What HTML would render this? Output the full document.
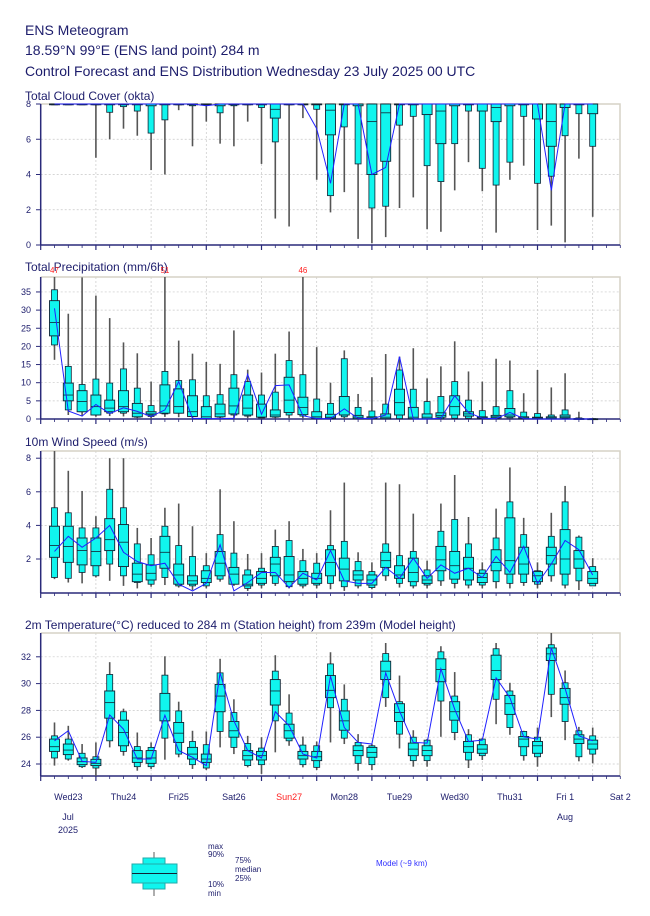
<!DOCTYPE html>
<html><head><meta charset="utf-8">
<style>
body{margin:0;background:#fff;width:650px;height:916px;overflow:hidden;font-family:"Liberation Sans",sans-serif}
svg{position:absolute;left:0;top:0}
</style></head>
<body>
<svg id="chart" width="650" height="916" xmlns="http://www.w3.org/2000/svg">
<text x="25" y="35" font-size="14" fill="#1c1c6b">ENS Meteogram</text>
<text x="25" y="55" font-size="14" fill="#1c1c6b">18.59°N 99°E (ENS land point) 284 m</text>
<text x="25" y="76" font-size="14" fill="#1c1c6b">Control Forecast and ENS Distribution Wednesday 23 July 2025 00 UTC</text>
<g id="panels"></g>
</svg>
<script>
// ---- Data (steps every 6h from Wed23 06UTC) ----
const dayLabels=["Wed23","Thu24","Fri25","Sat26","Sun27","Mon28","Tue29","Wed30","Thu31","Fri 1","Sat 2"];
const cloudTicks=[0,2,4,6,8];
const cloudMin=[8,8,8,4.95,6.0,6.6,6.2,4.25,4.0,7.65,5.6,7.0,5.75,5.6,7.0,4.6,1.5,1.05,7.2,3.7,1.85,3.0,0.35,0.1,0.45,2.1,2.7,0.9,0.75,3.1,4.7,3.05,0.7,3.7,4.5,0.85,1.1,0.15,4.9,1.6];
const cloudP10=[8,8,8,8,7.53,7.85,7.6,6.35,7.1,8,7.9,8,7.5,7.9,8,7.8,5.85,8,8,7.7,2.8,6.7,4.6,2.1,2.2,6.8,7.3,4.5,3.6,5.75,7.6,4.35,3.4,4.7,7.3,3.5,3.9,6.2,7.45,5.6];
const cloudP25=[8,8,8,8,8,8,8,7.9,8,8,8,8,7.9,8,8,8,7.2,8,8,8,6.25,8,7.9,4.0,4.75,8,8,7.4,5.75,7.9,8,7.6,7.0,7.9,8,7.15,5.6,7.8,8,7.45];
const cloudMed=[8,8,8,8,8,8,8,8,8,8,8,8,8,8,8,8,7.7,8,8,8,7.65,8,8,7.0,7.5,8,8,8,7.6,8,8,8,7.8,8,8,8,7.0,8,8,8];
const cloudP75=[8,8,8,8,8,8,8,8,8,8,8,8,8,8,8,8,8,8,8,8,8,8,8,8,8,8,8,8,8,8,8,8,8,8,8,8,8,8,8,8];
const cloudP90=cloudP75.slice();
const cloudMax=cloudP75.slice();
const cloudCtrl=[8,8,8,8,8,8,8,8,8,8,8,7.9,8,8,8,8,8,8,8,6.6,3.5,8,8,4.0,4.4,8,8,8,8,8,8,8,8,8,8,8,3.1,8,8,8];

const precTicks=[0,5,10,15,20,25,30,35];
const precMin=[16.3,1.1,0.8,0.6,0.8,0.7,0.2,0,0.6,0.5,0.3,0,0.1,0.2,0.2,0,0.1,0.2,0.2,0,0,0,0,0,0,0,0,0,0,0,0,0,0,0,0,0,0,0,0,0];
const precP10=[20.4,2.5,2.0,1.1,1.6,1.6,0.5,0.7,1.4,1.6,0.7,0.1,0.5,1.1,0.8,0.3,0.5,1.1,0.8,0.1,0.1,0.6,0.1,0.1,0.1,0.1,0.1,0.1,0.1,0.2,0.2,0.1,0.1,0.3,0.1,0.1,0.1,0.2,0,0];
const precP25=[22.9,5.0,2.0,1.1,2.0,2.0,0.6,1.1,1.6,1.6,0.7,0.1,0.6,1.4,1.1,0.5,0.6,1.8,1.2,0.2,0.2,1.1,0.1,0.1,0.1,1.1,0.1,0.1,0.5,1.1,0.8,0.2,0.3,0.6,0.1,0.1,0.1,0.3,0.1,0];
const precMed=[26.6,6.6,4.8,3.4,3.0,3.4,1.6,1.4,3.6,3.4,2.0,0.6,1.4,3.6,3.0,0.5,1.1,5.2,3.2,0.6,0.5,1.1,0.5,0.3,0.5,4.5,0.5,0.5,1.0,3.4,1.4,0.4,0.6,1.1,0.3,0.3,0.3,0.6,0.1,0];
const precP75=[32.6,9.9,7.8,6.6,5.2,7.8,4.3,2.0,9.4,8.3,6.4,3.4,4.1,8.5,6.6,4.1,2.5,11.5,6.0,2.0,1.3,6.2,1.0,0.6,1.4,8.2,3.2,1.4,1.7,6.4,2.0,0.6,1.0,2.9,0.6,0.5,0.6,1.1,0.1,0.05];
const precP90=[35.6,14.5,9.5,11,9.9,13.8,8.5,3.7,13.1,10.6,10.8,6.4,6.7,12.2,10.3,6.6,7.4,16.1,12.2,5.5,4.3,16.6,3.2,2.2,4.1,13.5,8.2,4.8,6.2,10.3,5.2,2.3,3.4,7.8,1.9,1.5,1.1,2.5,0.3,0.1];
const precMax=[47,29,39,34,27.8,21.1,18.1,10.3,51,21.6,18,15.7,15.2,24.4,13.6,12.8,18,24.1,46,19.8,10,18.9,6.9,11.5,17.9,17.2,19.5,11.2,14.5,21.4,13.1,10.3,16.6,16.1,7.1,13.5,8.7,12.6,2,0.3];
const precCtrl=[30.5,2.2,0.8,4.0,1.5,3.1,2.1,0.7,2.5,10.3,0.2,0.1,0.1,0.2,12.3,1.3,9.2,9.4,0.9,0.1,0.1,2.8,0.2,0.1,1.1,17.2,0,0,0.2,6.4,1.8,0.2,0.1,1.8,0.1,0,0,0,0,0];

const windTicks=[2,4,6,8];
const windMin=[.8,.6,.55,.9,.7,.4,.25,.35,.45,.3,.15,.25,.65,.4,.1,.25,.4,.25,.25,.25,.2,.1,.25,.2,.7,.3,.25,.25,.4,.25,.25,.25,.25,.25,.4,.25,.65,.25,.15,.4];
const windP10=[.9,.85,1.2,1.0,1.7,1.0,.6,.5,.9,.4,.4,.4,.8,.5,.25,.45,.55,.35,.4,.45,.55,.35,.4,.3,1.0,.55,.4,.45,.7,.55,.45,.45,.65,.55,.6,.5,1.0,.45,.7,.4];
const windP25=[2.1,1.8,1.65,1.6,2.5,1.55,.65,.75,1.45,.5,.5,.6,1.0,.5,.4,.55,1.0,.65,.5,.55,1.0,.7,.75,.45,1.5,.85,.65,.55,1.3,.8,.75,.6,1.3,1.1,1.1,.65,1.7,1.1,1.45,.55];
const windMed=[2.8,2.75,2.5,2.45,3.15,3.0,1.1,1.15,2.4,1.05,.7,.85,1.75,1.1,.5,.85,1.7,1.05,.85,.85,1.8,1.4,1.05,.75,1.9,1.05,1.2,.75,1.95,1.6,1.45,.9,1.8,1.9,1.7,1.0,2.2,2.0,2.0,.85];
const windP75=[3.95,3.95,3.25,3.25,4.4,4.05,1.75,1.65,3.35,1.7,1.0,1.3,2.45,1.5,1.05,1.25,2.1,2.15,1.25,1.15,2.55,2.05,1.3,1.05,2.4,1.6,2.05,1.0,2.75,2.45,2.1,1.15,2.55,4.45,2.7,1.25,2.7,3.75,2.5,1.25];
const windP90=[5.05,4.75,3.85,3.85,6.15,5.05,2.9,2.25,3.95,2.8,2.15,1.6,3.45,2.35,1.35,1.45,2.75,3.1,1.9,1.75,2.8,3.05,1.85,1.25,2.9,2.2,2.45,1.35,3.65,4.35,2.9,1.35,3.25,5.4,3.45,1.3,3.35,5.4,3.3,1.55];
const windMax=[8.6,7.25,6.05,4.55,8.0,8.0,3.85,3.25,5.05,5.3,3.95,2.35,6.15,4.25,2.3,2.35,3.75,4.25,2.6,2.35,4.9,6.55,2.4,1.8,6.55,6.45,4.7,1.9,5.3,7.0,4.5,1.8,5.0,7.45,4.45,1.8,4.75,6.35,3.4,2.05];
const windCtrl=[2.45,3.35,2.7,3.25,4.0,2.4,1.85,1.6,1.75,.5,.1,.55,2.85,.1,.6,1.2,1.2,.3,1.15,.75,2.5,.7,.55,.55,1.5,.85,2.05,.85,1.65,1.15,1.45,.9,2.15,1.2,2.75,.55,1.7,3.1,2.55,1.05];

const tempTicks=[24,26,28,30,32];
const tempMin=[23.88,24.25,23.7,22.76,25.24,24.62,23.5,23.63,24.32,24.5,23.63,23.55,25.24,24.74,23.75,23.26,24.87,25.36,23.75,23.55,25.61,25.49,23.5,23.55,28.26,25.16,23.8,23.8,26.03,25.78,23.7,24.3,26.97,26.18,24.25,23.8,27.5,25.78,24.2,24.05];
const tempP10=[24.45,24.37,23.8,23.7,25.73,24.94,23.8,23.8,25.93,24.74,23.95,23.7,26.43,25.24,23.88,23.95,27.22,25.73,23.95,23.75,28.2,25.93,24.05,23.95,28.95,26.23,24.25,24.25,28.7,26.35,24.3,24.62,28.83,26.72,24.62,24.54,29.2,27.17,24.54,24.74];
const tempP25=[24.94,24.7,23.95,23.88,27.42,25.36,24.12,24.05,27.22,25.61,24.37,24.12,27.9,26.0,24.3,24.3,28.4,25.93,24.37,24.25,28.95,26.52,24.62,24.5,30.3,27.17,24.62,24.62,30.14,27.27,24.87,24.8,30.3,27.7,25.29,24.8,31.72,28.46,25.53,25.11];
const tempMed=[25.29,25.04,24.17,24.05,28.58,26.35,24.45,24.45,27.96,26.3,24.74,24.37,29.07,26.48,24.62,24.62,29.45,26.48,24.62,24.54,29.5,27.22,25.0,24.87,30.93,27.84,25.11,25.0,31.05,27.9,25.29,25.11,30.98,28.5,25.86,25.36,32.22,28.95,25.86,25.49];
const tempP75=[25.86,25.49,24.45,24.35,29.45,27.27,25.0,25.0,29.27,27.1,25.24,24.74,29.94,27.17,25.0,24.94,30.3,26.97,24.94,24.94,30.6,27.96,25.36,25.24,31.67,28.5,25.56,25.36,31.85,28.65,25.68,25.44,32.12,29.12,26.05,25.68,32.66,29.64,26.18,25.78];
const tempP90=[26.1,25.86,24.8,24.54,30.68,27.9,25.3,25.24,30.63,27.96,25.68,25.44,30.8,27.84,25.53,25.19,30.93,27.8,25.41,25.36,31.47,28.83,25.61,25.36,32.24,28.65,26.0,25.78,32.37,29.07,26.18,25.86,32.6,29.45,26.43,26.0,32.9,30.06,26.48,26.1];
const tempMax=[27.1,26.85,25.49,25.61,31.6,28.13,26.35,25.61,32.04,28.65,26.48,26.43,31.85,28.83,26.1,26.0,32.12,29.2,26.05,25.68,32.34,29.94,26.23,25.49,33.03,30.6,26.52,25.86,32.79,30.86,26.6,25.93,33.03,30.06,26.48,26.72,33.78,30.98,26.77,26.72];
const tempCtrl=[25.73,26.48,24.2,24.12,27.66,26.6,24.37,24.37,27.64,25.0,24.5,23.88,30.8,27.22,25.0,24.45,27.9,26.85,24.74,24.45,30.56,26.72,25.61,25.49,30.8,27.96,25.61,25.56,31.1,28.08,25.68,25.78,30.43,28.95,26.03,25.86,32.66,29.64,26.1,25.73];

// ---- Layout ----
const X0=40.7, DAY=55.2, XR=620;
function xPos(i){return X0+(i+1)*DAY/4;}
const NS="http://www.w3.org/2000/svg";
const root=document.getElementById('panels');
function mk(tag,attrs,parent){const e=document.createElementNS(NS,tag);for(const k in attrs)e.setAttribute(k,attrs[k]);(parent||root).appendChild(e);return e;}

function panel(cfg){
  const g=mk('g',{});
  
  
  const y=v=>cfg.y0-(v-cfg.v0)*cfg.k;
  const t=mk('text',{x:25,y:cfg.titleY,'font-size':12,fill:'#1c1c6b'},g);t.textContent=cfg.title;
  
  
  // grid
  cfg.ticks.forEach(v=>{
    const gl=mk('line',{x1:X0,x2:XR,y1:y(v),y2:y(v),stroke:'#c8c8c8','stroke-width':0.7,'stroke-dasharray':'2,2'},g);
    
    
    const lb=mk('text',{x:31,y:y(v)+3,'font-size':9,fill:'#1c1c6b','text-anchor':'end'},g);lb.textContent=v;
    
    
    mk('line',{x1:36,x2:40.7,y1:y(v),y2:y(v),stroke:'#2a2a7a','stroke-width':1},g);
  });
  for(let d=1;d<=10;d++){
    const vl=mk('line',{x1:X0+d*DAY,x2:X0+d*DAY,y1:cfg.top,y2:cfg.bottom,stroke:'#c8c8c8','stroke-width':0.7,'stroke-dasharray':'2,2'},g);
    
    
  }
  // frame
  mk('polyline',{points:`${X0},${cfg.top} ${XR},${cfg.top} ${XR},${cfg.bottom}`,fill:'none',stroke:'#d6d2c6','stroke-width':1.5},g);
  mk('line',{x1:X0,x2:X0,y1:cfg.top,y2:cfg.bottom,stroke:'#2a2a7a','stroke-width':1.5},g);
  mk('line',{x1:X0,x2:XR,y1:cfg.bottom,y2:cfg.bottom,stroke:'#2a2a7a','stroke-width':1.5},g);
  for(let s=0;s<=42;s++){
    const xx=X0+s*DAY/4;
    mk('line',{x1:xx,x2:xx,y1:cfg.bottom,y2:cfg.bottom+(s%4==0?5:3),stroke:'#2a2a7a','stroke-width':s%4==0?1.2:0.8},g);
  }
  const clipTop=cfg.top;
  const cl=v=>Math.max(clipTop,Math.min(cfg.bottom,y(v)));
  const d=cfg.data;
  for(let i=0;i<d.min.length;i++){
    const x=xPos(i);
    const b=mk('g',{},g);
    
    
    mk('line',{x1:x,x2:x,y1:cl(d.min[i]),y2:cl(d.max[i]),stroke:'#555','stroke-width':1.6},b);
    const h1=Math.max(0.8,cl(d.p10[i])-cl(d.p90[i]));
    mk('rect',{x:x-3,y:cl(d.p90[i]),width:6,height:h1,fill:'#10f5ee',stroke:'#123','stroke-width':0.8},b);
    const h2=Math.max(0.8,cl(d.p25[i])-cl(d.p75[i]));
    mk('rect',{x:x-5,y:cl(d.p75[i]),width:10,height:h2,fill:'#10f5ee',stroke:'#123','stroke-width':0.9},b);
    mk('line',{x1:x-5,x2:x+5,y1:cl(d.med[i]),y2:cl(d.med[i]),stroke:'#123','stroke-width':0.8},b);
    if(cfg.overflow && d.max[i]>cfg.topVal){
      const o=mk('text',{x:x,y:cfg.top-4,'font-size':8,fill:'#ff2020','text-anchor':'middle'},g);o.textContent=Math.round(d.max[i]);
      
      
    }
  }
  const pts=d.ctrl.map((v,i)=>xPos(i)+','+cl(v)).join(' ');
  const ln=mk('polyline',{points:pts,fill:'none',stroke:'#2020ff','stroke-width':1},g);
  
  
}

panel({name:'cloud',title:'Total Cloud Cover (okta)',titleY:100,top:104,bottom:245,y0:245,v0:0,k:17.625,ticks:cloudTicks,
  data:{min:cloudMin,p10:cloudP10,p25:cloudP25,med:cloudMed,p75:cloudP75,p90:cloudP90,max:cloudMax,ctrl:cloudCtrl}});
panel({name:'precip',title:'Total Precipitation (mm/6h)',titleY:271,top:277,bottom:419,y0:419,v0:0,k:3.63,ticks:precTicks,overflow:true,topVal:39.2,
  data:{min:precMin,p10:precP10,p25:precP25,med:precMed,p75:precP75,p90:precP90,max:precMax,ctrl:precCtrl}});
panel({name:'wind',title:'10m Wind Speed (m/s)',titleY:446,top:451,bottom:593,y0:592.6,v0:0,k:16.8,ticks:windTicks,
  data:{min:windMin,p10:windP10,p25:windP25,med:windMed,p75:windP75,p90:windP90,max:windMax,ctrl:windCtrl}});
panel({name:'temp',title:'2m Temperature(°C) reduced to 284 m (Station height) from 239m (Model height)',titleY:629,top:633,bottom:776,y0:764,v0:24,k:13.4,ticks:tempTicks,
  data:{min:tempMin,p10:tempP10,p25:tempP25,med:tempMed,p75:tempP75,p90:tempP90,max:tempMax,ctrl:tempCtrl}});

// x labels
dayLabels.forEach((s,d)=>{
  const t=mk('text',{x:X0+(d+0.5)*DAY,y:800,'font-size':9,fill:d==4?'#ff2020':'#1c1c6b','text-anchor':'middle'});t.textContent=s;
  
  
});
[["Jul",68,820],["2025",68,833],["Aug",565,820]].forEach(a=>{
  const t=mk('text',{x:a[1],y:a[2],'font-size':9,fill:'#1c1c6b','text-anchor':'middle'});t.textContent=a[0];
  
  
});
// legend
const lg=mk('g',{});


mk('line',{x1:154,x2:154,y1:852,y2:896,stroke:'#777','stroke-width':1.2},lg);
mk('rect',{x:143,y:858,width:22,height:31,fill:'#10f5ee',stroke:'#2aa','stroke-width':1},lg);
mk('rect',{x:132,y:864,width:45,height:19,fill:'#10f5ee',stroke:'#2aa','stroke-width':1},lg);
mk('line',{x1:132,x2:177,y1:873.5,y2:873.5,stroke:'#123','stroke-width':1},lg);
[["max",208,849],["90%",208,857],["75%",235,863],["median",235,872],["25%",235,881],["10%",208,887],["min",208,896]].forEach(a=>{
  const t=mk('text',{x:a[1],y:a[2],'font-size':8,fill:'#1c1c6b'},lg);t.textContent=a[0];
  
  
});
const ml=mk('text',{x:376,y:866,'font-size':8,fill:'#3030ff'},lg);ml.textContent='Model (~9 km)';


</script>
</body></html>
